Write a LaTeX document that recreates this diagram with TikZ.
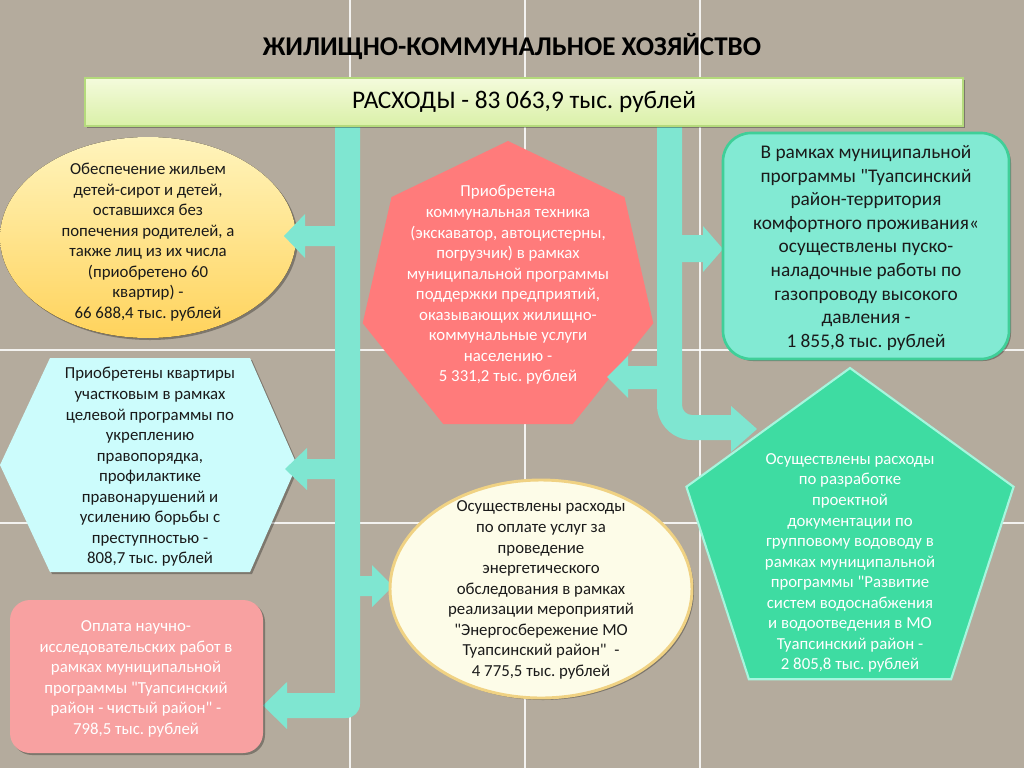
\documentclass[tikz,border=0pt]{standalone}
\usepackage{fontspec}
\setmainfont{Carlito}[Ligatures=TeXOff]
\frenchspacing
\usetikzlibrary{shadows}
\definecolor{bg}{HTML}{B4AB9D}
\definecolor{barc}{HTML}{7FE6D1}
\definecolor{yellowA}{HTML}{FFF4BC}
\definecolor{yellowB}{HTML}{FFD35C}
\definecolor{coral}{HTML}{FF7B7B}
\definecolor{mint}{HTML}{82EAD3}
\definecolor{mintB}{HTML}{3FCF98}
\definecolor{cyanL}{HTML}{CCFCFC}
\definecolor{creamA}{HTML}{FDFCE8}
\definecolor{creamB}{HTML}{F0D283}
\definecolor{pinkL}{HTML}{F8A1A1}
\definecolor{greenP}{HTML}{3EDCA2}
\definecolor{greenPB}{HTML}{A6F6DE}
\definecolor{topA}{HTML}{F4FBDC}
\definecolor{topB}{HTML}{DAF0A8}
\definecolor{topD}{HTML}{B4DA7C}
\definecolor{ink}{HTML}{1A1A1A}
\tikzset{
  gridline/.style={draw=white, line width=1.1pt, opacity=0.85},
  barshape/.style={fill=barc},
  txt/.style={align=center, inner sep=0pt, text=ink, font=\fontsize{12.6}{15.4}\selectfont},
  wtxt/.style={txt, text=white},
  shad/.style={drop shadow={shadow xshift=1.5pt, shadow yshift=-1.5pt, opacity=0.3, fill=black}}
}
\begin{document}
\begin{tikzpicture}[x=0.75pt,y=-0.75pt]
\useasboundingbox (0,0) rectangle (1024,768);
\fill[bg] (0,0) rectangle (1024,768);
% background grid lines
\draw[gridline] (350,0) -- (350,768);
\draw[gridline] (525,0) -- (525,768);
\draw[gridline] (700,0) -- (700,768);
\draw[gridline] (0,350) -- (1024,350);
\draw[gridline] (0,523) -- (1024,523);

% title
\node[font=\fontsize{20.3}{24}\selectfont\bfseries, text=black, inner sep=0pt] (title) at (512,47) {ЖИЛИЩНО-КОММУНАЛЬНОЕ ХОЗЯЙСТВО};

% shapes under the connectors
\fill[shad, top color=yellowA, bottom color=yellowB] (148,237.5) ellipse [x radius=148, y radius=100.5];
\fill[shad, fill=cyanL] (0,465) -- (50,358) -- (250,358) -- (297,465) -- (250,572) -- (50,572) -- cycle;
\fill[coral] (508,141) -- (624.5,197.1) -- (653.3,323.2) -- (572.6,424.2) -- (443.4,424.2) -- (362.7,323.2) -- (391.5,197.1) -- cycle;

% connectors (left trunk)
\fill[barshape] (335,126) -- (360,126) -- (360,704) .. controls (360,711.7) and (353.7,718) .. (346,718)
  -- (287,718) -- (287,729) -- (263,705.5) -- (287,682) -- (287,693) -- (335,693) -- cycle;
\fill[barshape] (336,226) -- (305,226) -- (305,214) -- (284,236) -- (305,258) -- (305,246) -- (336,246) -- cycle;
\fill[barshape] (336,459) -- (307,459) -- (307,448) -- (285,469) -- (307,490) -- (307,479) -- (336,479) -- cycle;
\fill[barshape] (359,576) -- (372,576) -- (372,565) -- (393,586) -- (372,607) -- (372,596) -- (359,596) -- cycle;
% connectors (right trunk)
\fill[barshape] (657,126) -- (657,405) .. controls (657,424.3) and (672.7,440) .. (692,440)
  -- (731,440) -- (731,452) -- (757,429) -- (731,406) -- (731,415) -- (692,415)
  .. controls (686.5,415) and (682,410.5) .. (682,405) -- (682,126) -- cycle;
\fill[barshape] (681,235) -- (703,235) -- (703,226) -- (723,249) -- (703,272) -- (703,262) -- (681,262) -- cycle;
\fill[barshape] (658,366) -- (628,366) -- (628,356) -- (607,377) -- (628,398) -- (628,389) -- (658,389) -- cycle;

% top box
\node[shad, draw=topD, line width=1pt, top color=topA, bottom color=topB, minimum width=658.5pt, minimum height=36pt, inner sep=0pt,
  font=\fontsize{19}{23}\selectfont, text=black] (total) at (524,102) {РАСХОДЫ - 83 063,9 тыс. рублей};

% other shapes
\draw[shad, fill=mint, draw=mintB, line width=2pt, rounded corners=21pt] (723,133) rectangle (1009,359);
\draw[shad, fill=creamA, draw=creamB, line width=2.2pt] (541,589) ellipse [x radius=151, y radius=109];
\fill[shad, fill=pinkL, rounded corners=15pt] (10,600) rectangle (263,753);
\draw[fill=greenP, draw=greenPB, line width=1.6pt] (850,368) -- (1013.6,486.8) -- (951.1,679.2) -- (748.9,679.2) -- (686.4,486.8) -- cycle;

% texts
\node[txt] (yelltxt) at (148,242) {Обеспечение жильем\\детей-сирот и детей,\\оставшихся без\\попечения родителей, а\\также лиц из их числа\\(приобретено 60\\квартир) -\\66 688,4 тыс. рублей};
\node[wtxt] (heptxt) at (508,285) {Приобретена\\коммунальная техника\\(экскаватор, автоцистерны,\\погрузчик) в рамках\\муниципальной программы\\поддержки предприятий,\\оказывающих жилищно-\\коммунальные услуги\\населению -\\5 331,2 тыс. рублей};
\node[txt, font=\fontsize{14.5}{17.7}\selectfont] (gastxt) at (866,248) {В рамках муниципальной\\программы "Туапсинский\\район-территория\\комфортного проживания«\\осуществлены пуско-\\наладочные работы по\\газопроводу высокого\\давления -\\1 855,8 тыс. рублей};
\node[txt] (hextxt) at (150,467) {Приобретены квартиры\\участковым в рамках\\целевой программы по\\укреплению\\правопорядка,\\профилактике\\правонарушений и\\усилению борьбы с\\преступностью -\\808,7 тыс. рублей};
\node[txt] (enertxt) at (541,590) {Осуществлены расходы\\по оплате услуг за\\проведение\\энергетического\\обследования в рамках\\реализации мероприятий\\"Энергосбережение МО\\Туапсинский район"\ \ -\\4 775,5 тыс. рублей};
\node[wtxt] (pinktxt) at (136,679) {Оплата научно-\\исследовательских работ в\\рамках муниципальной\\программы "Туапсинский\\район - чистый район" -\\798,5 тыс. рублей};
\node[wtxt] (pentxt) at (850,563) {Осуществлены расходы\\по разработке\\проектной\\документации по\\групповому водоводу в\\рамках муниципальной\\программы "Развитие\\систем водоснабжения\\и водоотведения в МО\\Туапсинский район -\\2 805,8 тыс. рублей};
\end{tikzpicture}
\end{document}
